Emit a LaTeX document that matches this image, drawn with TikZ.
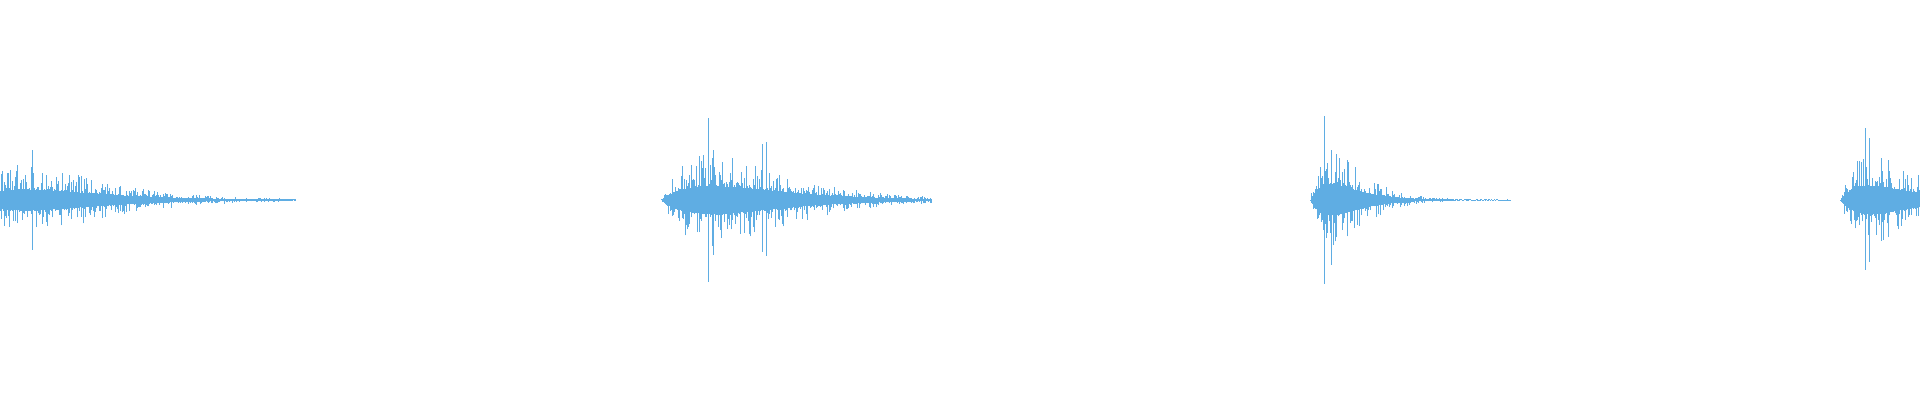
\documentclass[tikz,border=0pt]{standalone}
\usepackage{tikz}
\definecolor{wave}{HTML}{5FADE3}
\tikzset{sample/.style={draw=wave, line width=0.6pt}}
% one burst: start x, length, peak amplitude, rise
\newcommand{\burst}[4]{%
  \foreach \i in {0,...,#2}{%
    \pgfmathsetmacro\e{#3*(\i/#4)*exp(1-\i/#4)+1.3*exp(-\i/400)}
    \pgfmathsetmacro\up{\e*(0.3+0.7*rnd^3)}
    \pgfmathsetmacro\dn{\e*(0.3+0.7*rnd^3)}
    \draw[sample] (#1+\i,200+\up) -- (#1+\i,200-\dn);
  }%
}
\begin{document}
\begin{tikzpicture}[x=0.05cm,y=-0.05cm]
  \useasboundingbox (0,0) rectangle (1920,400);
  \pgfmathsetseed{7}
  % bursts
  \burst{-25}{320}{34}{50}
  \burst{661}{270}{45}{50}
  \burst{1310}{200}{50}{20}
  \burst{1840}{80}{45}{30}
  % tall spikes
  \draw[sample] (708,118) -- (708,282);
  \draw[sample] (713,150) -- (713,255);
  \draw[sample] (762,144) -- (762,252);
  \draw[sample] (766,142) -- (766,256);
  \draw[sample] (1324,116) -- (1324,284);
  \draw[sample] (1331,150) -- (1331,265);
  \draw[sample] (1865,128) -- (1865,270);
  \draw[sample] (1869,138) -- (1869,262);
  \draw[sample] (32,150) -- (32,250);
\end{tikzpicture}
\end{document}
